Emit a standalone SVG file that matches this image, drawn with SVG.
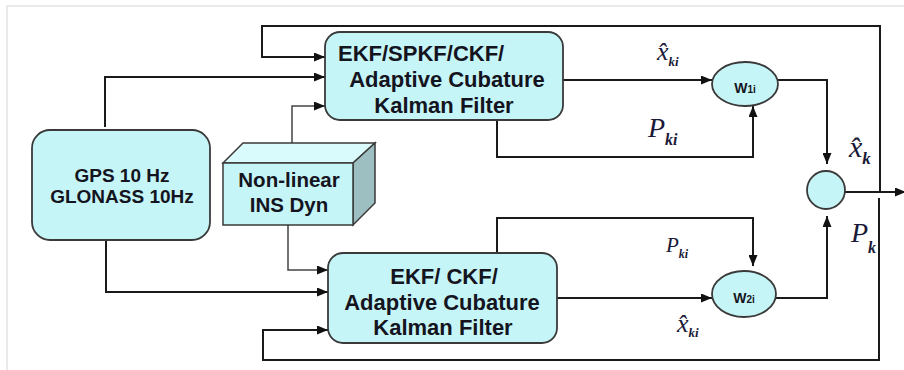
<svg xmlns="http://www.w3.org/2000/svg" width="904" height="370" viewBox="0 0 904 370">
  <style>
    .box { fill: #c6f5f8; stroke: #3a3a3a; stroke-width: 1.8; }
    .lbl { font-family: "Liberation Sans", Arial, sans-serif; font-weight: bold; fill: #141420; }
    .math { font-family: "Liberation Serif", "Times New Roman", serif; font-style: italic; fill: #1a1a38; }
    .sub { font-weight: bold; }
    .wire { fill: none; stroke: #1a1a1a; stroke-width: 2; marker-end: url(#arrow); }
    .wire-thin { fill: none; stroke: #444; stroke-width: 1.5; marker-end: url(#arrow); }
  </style>
  <defs>
    <marker id="arrow" markerUnits="userSpaceOnUse" markerWidth="11" markerHeight="9" refX="11" refY="4.5" orient="auto">
      <path d="M0,0 L11,4.5 L0,9 z" fill="#111"/>
    </marker>
  </defs>

  <rect width="904" height="370" fill="#ffffff"/>
  <!-- outer frame -->
  <path d="M7,370 V6 H904" fill="none" stroke="#e4e4e4" stroke-width="1.5"/>

  <!-- connectors -->
  <g id="connectors">
    <path class="wire" d="M880,192 V26 H262 V57 H325"/>
    <path class="wire" d="M879,198 V360 H263 V330 H328"/>
    <path class="wire" d="M105,127 V77 H325"/>
    <path class="wire" d="M106,240 V292 H328"/>
    <path class="wire-thin" d="M292,153 V106 H325"/>
    <path class="wire-thin" d="M288,225 V270 H328"/>
    <path class="wire" d="M563,80 H712"/>
    <path class="wire" d="M497,120 V157 H753 V106"/>
    <path class="wire" d="M778,80 H827 V164"/>
    <path class="wire" d="M497,253 V218 H753 V266"/>
    <path class="wire" d="M557,298 H712"/>
    <path class="wire" d="M775,298 H827 V216"/>
    <path class="wire" d="M845,192 H906"/>
  </g>

  <!-- top filter -->
  <g id="filter-top">
    <rect class="box" x="325" y="32" width="238" height="88" rx="15"/>
    <text class="lbl" font-size="22" x="338" y="61">EKF/SPKF/CKF/</text>
    <text class="lbl" font-size="22" x="447" y="87" text-anchor="middle">Adaptive Cubature</text>
    <text class="lbl" font-size="22" x="444" y="113" text-anchor="middle">Kalman Filter</text>
  </g>

  <!-- bottom filter -->
  <g id="filter-bottom">
    <rect class="box" x="328" y="253" width="229" height="90" rx="15"/>
    <text class="lbl" font-size="22" x="444" y="284" text-anchor="middle">EKF/ CKF/</text>
    <text class="lbl" font-size="22" x="442" y="310" text-anchor="middle">Adaptive Cubature</text>
    <text class="lbl" font-size="22" x="443" y="335" text-anchor="middle">Kalman Filter</text>
  </g>

  <!-- receivers -->
  <g id="gnss">
    <rect class="box" x="32" y="130" width="178" height="110" rx="18"/>
    <text class="lbl" font-size="19" x="122" y="182" text-anchor="middle">GPS 10 Hz</text>
    <text class="lbl" font-size="19" x="122" y="203" text-anchor="middle">GLONASS 10Hz</text>
  </g>

  <!-- inertial dynamics block -->
  <g id="ins">
    <polygon points="223,163 243,143 375,143 353,163" fill="#d9fbfc" stroke="#3a3a3a" stroke-width="1.5"/>
    <polygon points="353,163 375,143 375,203 353,225" fill="#9dbfc1" stroke="#3a3a3a" stroke-width="1.5"/>
    <rect x="223" y="163" width="130" height="62" fill="#c6f5f8" stroke="#3a3a3a" stroke-width="1.5"/>
    <text class="lbl" font-size="20.5" x="289" y="187" text-anchor="middle">Non-linear</text>
    <text class="lbl" font-size="20.5" x="289" y="212" text-anchor="middle">INS Dyn</text>
  </g>

  <!-- weighting nodes -->
  <g id="w1">
    <ellipse class="box" cx="745" cy="84" rx="33" ry="22"/>
    <text class="lbl" x="745" y="93" text-anchor="middle"><tspan font-size="14">W</tspan><tspan font-size="10">1i</tspan></text>
  </g>
  <g id="w2">
    <ellipse class="box" cx="744" cy="294" rx="32" ry="23"/>
    <text class="lbl" x="744" y="303" text-anchor="middle"><tspan font-size="14">W</tspan><tspan font-size="10">2i</tspan></text>
  </g>

  <!-- fusion node -->
  <g id="sum">
    <circle class="box" cx="826" cy="190" r="19"/>
  </g>

  <!-- signal labels -->
  <g id="labels">
    <text class="math" font-size="26" x="657" y="60">x̂<tspan class="sub" font-size="13" dy="6">ki</tspan></text>
    <text class="math" font-size="28" x="648" y="137">P<tspan class="sub" font-size="16" dy="8">ki</tspan></text>
    <text class="math" font-size="30" x="849" y="157">x̂<tspan class="sub" font-size="17" dy="7">k</tspan></text>
    <text class="math" font-size="21" x="666" y="252">P<tspan class="sub" font-size="12" dy="6">ki</tspan></text>
    <text class="math" font-size="26" x="677" y="332">x̂<tspan class="sub" font-size="13" dy="5">ki</tspan></text>
    <text class="math" font-size="28" x="851" y="242">P<tspan class="sub" font-size="16" dy="11">k</tspan></text>
  </g>
</svg>
